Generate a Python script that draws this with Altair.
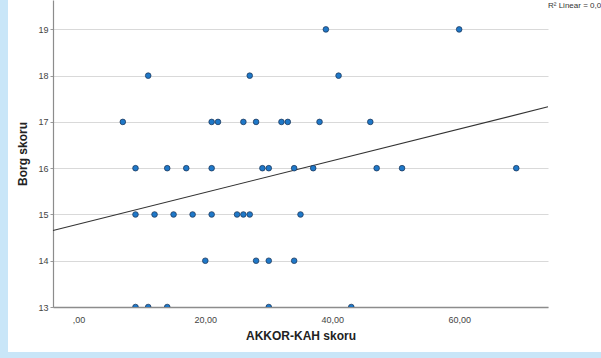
import altair as alt
import pandas as pd

# AKKOR-KAH score and Borg score for each participant
akkor_kah = [
    39, 60,
    11, 27, 41,
    7, 21, 22, 26, 28, 32, 33, 38, 46,
    9, 14, 17, 21, 29, 30, 34, 37, 47, 51, 69,
    9, 12, 15, 18, 21, 25, 26, 27, 35,
    20, 28, 30, 34,
    9, 11, 14, 30, 43,
]
borg = [
    19, 19,
    18, 18, 18,
    17, 17, 17, 17, 17, 17, 17, 17, 17,
    16, 16, 16, 16, 16, 16, 16, 16, 16, 16, 16,
    15, 15, 15, 15, 15, 15, 15, 15, 15,
    14, 14, 14, 14,
    13, 13, 13, 13, 13,
]
x_ticks = [0, 20, 40, 60]
y_ticks = [13, 14, 15, 16, 17, 18, 19]
r2_label = "R² Linear = 0,091"

df = pd.DataFrame({"akkor": akkor_kah, "borg": borg})

W, H = 495, 307
PAD_L, PAD_T = 53, 0
BLUE = "#c9e6f8"

x_scale = alt.Scale(domain=[-4, 74], nice=False, zero=False)
y_scale = alt.Scale(domain=[13, 19.635], nice=False, zero=False)

x_axis = alt.Axis(
    values=x_ticks,
    labelExpr="datum.value == 0 ? ',00' : replace(format(datum.value, '.2f'), '.', ',')",
    grid=False, ticks=False, tickSize=0, labelPadding=8,
    domainColor="#8c8c8c", domainWidth=1.5,
    labelFontSize=9, labelColor="#444444",
    title="AKKOR-KAH skoru", titleFontSize=12, titleFontWeight="bold",
    titleColor="#222222", titlePadding=6,
)
y_axis = alt.Axis(
    values=y_ticks, grid=True, gridColor="#d9d9d9", gridWidth=1,
    tickSize=3, tickColor="#9a9a9a", labelPadding=2,
    domainColor="#8c8c8c", domainWidth=1.2,
    labelFontSize=9, labelColor="#444444",
    title="Borg skoru", titleFontSize=12, titleFontWeight="bold",
    titleColor="#222222", titlePadding=8,
)

base = alt.Chart(df)

points = base.mark_point(
    filled=True, shape="circle", size=32, fill="#1f78c8",
    stroke="#1b3050", strokeWidth=0.7, opacity=1, clip=True,
).encode(
    x=alt.X("akkor:Q", scale=x_scale, axis=x_axis),
    y=alt.Y("borg:Q", scale=y_scale, axis=y_axis),
)

fit = base.transform_regression(
    "akkor", "borg", extent=[-4, 74]
).mark_line(color="#333333", strokeWidth=1.2).encode(
    x=alt.X("akkor:Q", scale=x_scale),
    y=alt.Y("borg:Q", scale=y_scale),
)

# frame strips around the white panel
left_strip = alt.Chart(df).mark_rect(color=BLUE, clip=False).encode(
    x=alt.value(-PAD_L), x2=alt.value(-45),
    y=alt.value(0), y2=alt.value(360),
)
bottom_strip = alt.Chart(df).mark_rect(color=BLUE, clip=False).encode(
    x=alt.value(-PAD_L), x2=alt.value(W + 60),
    y=alt.value(352), y2=alt.value(360),
)

r2_text = alt.Chart(pd.DataFrame({"t": [r2_label]})).mark_text(
    align="left", baseline="alphabetic", fontSize=8, color="#333333", clip=False,
).encode(text="t:N", x=alt.value(W), y=alt.value(8))

chart = alt.layer(left_strip, bottom_strip, fit, points, r2_text).properties(
    width=W, height=H,
    autosize=alt.AutoSizeParams(type="none"),
    padding={"left": PAD_L, "top": PAD_T, "right": 601 - PAD_L - W, "bottom": 358 - H},
    background="white",
).configure(font="Liberation Sans", view=alt.ViewConfig(stroke=None))

chart.save("out.html", embed_options={"renderer": "svg", "actions": False})
